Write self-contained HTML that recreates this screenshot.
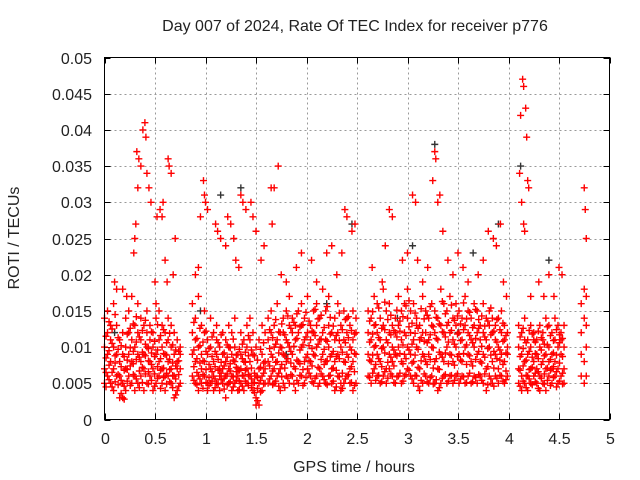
<!DOCTYPE html>
<html><head><meta charset="utf-8"><style>
html,body{margin:0;padding:0;background:#fff}
svg{display:block}
text{font-family:"Liberation Sans","DejaVu Sans",sans-serif;fill:#222}
</style></head><body>
<svg id="chart" width="640" height="480" viewBox="0 0 640 480" xmlns="http://www.w3.org/2000/svg">
<text x="355" y="31" font-size="16" text-anchor="middle">Day 007 of 2024, Rate Of TEC Index for receiver p776</text>
<text transform="translate(19,238) rotate(-90)" font-size="16" text-anchor="middle">ROTI / TECUs</text>
<text x="354" y="472" font-size="16" text-anchor="middle">GPS time / hours</text>
<g id="grid"></g>
<g id="ticks"></g>
<g id="marks"></g>
<rect x="104.5" y="57.5" width="505" height="362" fill="none" stroke="#000" stroke-width="1"/>
</svg>
<script>
// axis ticks
const xTicks = [0,0.5,1,1.5,2,2.5,3,3.5,4,4.5,5];
const xTickLabels = ["0","0.5","1","1.5","2","2.5","3","3.5","4","4.5","5"];
const yTicks = [0,0.005,0.01,0.015,0.02,0.025,0.03,0.035,0.04,0.045,0.05];
const yTickLabels = ["0","0.005","0.01","0.015","0.02","0.025","0.03","0.035","0.04","0.045","0.05"];
// sample epochs (hours) and ROTI samples at each epoch (x 0.001 TECU/min)
const epochs = [0,0.03,0.06,0.09,0.12,0.15,0.18,0.21,0.24,0.27,0.30,0.33,0.36,0.39,0.42,0.45,0.48,0.51,0.54,0.57,0.60,0.63,0.66,0.69,0.72,0.75,
0.87,0.90,0.93,0.96,0.99,1.02,1.05,1.08,1.11,1.14,1.17,1.20,1.23,1.26,1.29,1.32,1.35,1.38,1.41,1.44,1.47,1.50,1.53,1.56,1.59,
1.62,1.65,1.68,1.71,1.74,1.77,1.80,1.83,1.86,1.89,1.92,1.95,1.98,2.01,2.04,2.07,2.10,2.13,2.16,2.19,2.22,2.25,2.28,2.31,2.34,2.37,2.40,2.43,2.46,2.49,
2.61,2.64,2.67,2.70,2.73,2.76,2.79,2.82,2.85,2.88,2.91,2.94,2.97,3.00,3.03,3.06,3.09,3.12,3.15,3.18,3.21,3.24,3.27,3.30,3.33,3.36,3.39,3.42,3.45,3.48,3.51,3.54,3.57,3.60,3.63,3.66,3.69,3.72,3.75,3.78,3.81,3.84,3.87,3.90,3.93,3.96,3.99,
4.10,4.13,4.16,4.19,4.22,4.25,4.28,4.31,4.34,4.37,4.40,4.43,4.46,4.49,4.52,4.55,
4.72,4.75,4.77];
const rotiSamples = [[7,10,14,5],[6,12,9,15],[5,8,11,13],[4,7,10,16],[6,9,13,18],[3,8,11,6],[3,5,9,12],[4,7,10,14],[6,9,12,15],[5,8,11,17],[4,6,10,13],[5,9,12,16],[6,8,11,14],[4,7,9,13],[5,10,12,15],[6,8,13,11],[4,7,10,12],[5,9,14,16],[6,8,11,15],[5,7,10,13],[4,6,9,12],[6,8,11,14],[5,7,10,13],[3,6,9,12],[4,7,8,11],[5,9,7,10],
[6,9,12,16],[5,8,11,14],[4,6,10,17],[5,7,9,13],[6,8,12,15],[4,5,9,11],[5,7,10,14],[4,6,8,12],[5,9,11,13],[4,6,7,10],[5,7,9,12],[3,6,8,11],[5,7,10,13],[4,6,9,12],[5,8,10,14],[4,6,7,9],[5,7,9,12],[4,6,8,11],[5,7,10,13],[6,8,11,14],[4,5,9,12],[2,3,6,10],[2,5,7,11],[4,6,9,13],[5,7,8,12],
[5,8,11,14],[6,9,12,15],[5,7,10,13],[6,8,11,16],[4,7,10,12],[5,9,12,14],[6,8,11,15],[5,10,13,17],[6,9,12,14],[4,7,11,13],[5,8,12,15],[6,10,13,16],[5,8,11,14],[7,9,12,17],[6,8,11,13],[5,9,12,15],[6,10,13,16],[5,7,11,14],[6,9,12,18],[5,8,11,15],[6,10,13,17],[5,7,9,12],[4,8,11,14],[6,9,12,16],[4,5,10,13],[5,8,11,15],[6,9,12,14],[5,7,10,13],[4,8,11,15],[5,9,12,14],
[6,9,12,15],[5,8,11,14],[7,10,13,17],[6,9,12,16],[5,8,11,14],[6,10,13,18],[5,7,11,15],[7,9,12,16],[6,8,10,13],[5,9,12,14],[6,10,13,17],[5,8,11,15],[6,9,12,16],[7,10,14,18],[6,9,12,15],[5,8,11,16],[6,10,13,14],[4,7,11,13],[5,9,12,17],[6,8,12,15],[5,9,11,14],[6,10,13,16],[5,8,12,15],[4,7,11,14],[5,9,13,18],[6,8,12,16],[5,10,13,15],[6,9,12,17],[5,8,11,14],[6,10,13,16],[5,9,12,15],[6,8,11,14],[5,10,13,17],[6,9,12,15],[5,8,11,14],[6,10,13,16],[5,9,12,15],[6,8,11,13],[5,9,12,16],[4,7,11,14],[6,10,13,15],[5,8,12,14],[6,9,11,13],[5,7,10,14],[6,9,12,15],[5,8,11,13],[6,9,10,12],
[5,7,10,13],[4,6,9,12],[5,8,11,14],[4,6,9,11],[5,7,10,13],[6,8,11,12],[5,7,9,11],[4,6,10,13],[5,8,11,12],[4,7,9,14],[6,8,10,13],[5,7,9,12],[6,8,11,14],[5,7,10,13],[6,9,11,12],[5,7,10,13],
[6,9,12,16],[5,8,14,18],[6,10,13,17]];
// additional interleaved epochs and samples
const epochsB = [0.015,0.045,0.075,0.105,0.135,0.165,0.195,0.225,0.255,0.285,0.315,0.345,0.375,0.405,0.435,0.465,0.495,0.525,0.555,0.585,0.615,0.645,0.675,0.705,0.735,
0.885,0.915,0.945,0.975,1.005,1.035,1.065,1.095,1.125,1.155,1.185,1.215,1.245,1.275,1.305,1.335,1.365,1.395,1.425,1.455,1.485,1.515,1.545,1.575,
1.635,1.665,1.695,1.725,1.755,1.785,1.815,1.845,1.875,1.905,1.935,1.965,1.995,2.025,2.055,2.085,2.115,2.145,2.175,2.205,2.235,2.265,2.295,2.325,2.355,2.385,2.415,2.445,2.475,
2.625,2.655,2.685,2.715,2.745,2.775,2.805,2.835,2.865,2.895,2.925,2.955,2.985,3.015,3.045,3.075,3.105,3.135,3.165,3.195,3.225,3.255,3.285,3.315,3.345,3.375,3.405,3.435,3.465,3.495,3.525,3.555,3.585,3.615,3.645,3.675,3.705,3.735,3.765,3.795,3.825,3.855,3.885,3.915,3.945,3.975,
4.115,4.145,4.175,4.205,4.235,4.265,4.295,4.325,4.355,4.385,4.415,4.445,4.475,4.505,4.535];
const rotiSamplesB = [[6.5,8.5,11.5,4.5],[5.5,7.5,9.5,13.5],[4.5,6.5,10.5,12.5],[5.2,7.8,8.8,14.5],[4.8,6.2,9.7,11.3],[3.6,5.4,7.3,10.2],[2.8,4.6,6.8,8.7],[5.3,6.9,8.2,11.8],[4.7,7.4,9.9,12.6],[6.2,7.7,9.4,13.2],[5.6,8.3,10.7,14.2],[4.4,6.7,8.6,11.4],[5.1,7.2,9.3,12.3],[6.3,8.8,10.4,13.7],[4.9,6.6,8.1,9.8],[5.4,7.6,9.2,12.1],[4.6,6.3,8.7,10.8],[5.7,7.3,9.6,13.1],[4.3,6.8,8.4,11.6],[5.8,7.1,9.1,12.4],[4.9,6.4,8.9,10.6],[5.2,6.9,8.3,11.9],[4.4,6.1,7.8,10.3],[3.4,5.6,7.4,9.6],[4.6,6.2,8.1,9.4],
[5.4,7.3,9.6,13.4],[4.8,6.5,8.4,11.2],[5.6,7.8,10.2,12.6],[4.3,6.2,8.1,10.7],[5.1,6.9,9.4,12.2],[4.7,5.8,7.6,9.8],[5.3,6.6,8.7,11.4],[4.4,5.6,7.3,9.4],[4.9,6.8,8.3,10.6],[5.5,6.4,7.9,11.7],[4.2,5.7,7.4,9.2],[4.8,6.3,8.6,10.3],[5.2,6.7,7.7,9.9],[4.5,5.9,8.2,11.1],[5.4,6.6,7.2,8.9],[4.1,5.3,6.8,9.7],[4.6,6.1,8.4,10.4],[5.3,6.8,7.9,9.3],[4.7,6.2,8.8,11.6],[4.4,5.6,7.1,9.6],[3.7,5.1,6.4,8.8],[2.6,4.3,5.8,8.2],[3.8,5.4,7.2,9.7],[4.9,6.4,7.8,10.6],
[5.6,7.4,9.8,12.4],[4.8,6.7,8.6,11.3],[5.3,7.9,10.4,13.8],[4.6,6.4,9.2,12.1],[5.9,7.6,9.9,13.2],[4.4,7.1,8.8,11.7],[5.7,8.4,10.6,14.3],[6.2,7.8,9.4,12.6],[4.9,7.3,10.1,13.4],[5.4,8.2,11.2,14.6],[6.1,7.7,9.6,12.8],[4.7,6.9,10.3,13.1],[5.8,8.6,11.4,14.8],[6.4,8.1,10.2,13.6],[5.2,7.4,9.8,12.2],[5.7,8.8,11.6,15.2],[4.6,7.2,10.4,13.9],[6.3,8.3,11.1,14.4],[5.5,7.6,9.7,12.7],[4.8,8.1,10.8,15.6],[6.1,8.7,11.8,14.1],[5.3,7.1,9.4,12.9],[4.5,6.8,8.7,11.6],[5.9,8.4,10.9,14.7],[4.3,6.4,9.3,12.4],[5.6,7.9,10.6,13.8],[6.2,8.6,11.3,14.2],[5.1,7.3,9.6,12.3],[4.7,6.6,9.1,11.8],
[5.8,8.2,10.7,13.6],[6.4,8.9,11.8,14.9],[5.4,7.6,10.2,13.1],[6.1,8.4,11.3,15.4],[5.2,7.3,9.8,12.6],[6.6,9.2,12.4,16.2],[5.7,7.9,10.6,13.8],[6.3,8.6,11.7,14.4],[5.1,7.4,9.6,12.3],[5.9,8.8,11.4,15.1],[6.4,9.1,12.2,13.6],[5.3,7.7,10.3,14.2],[6.2,8.4,11.6,15.7],[6.8,9.6,12.8,16.4],[5.6,7.8,10.4,13.3],[6.1,8.9,11.9,14.7],[4.6,7.2,9.7,12.6],[5.4,8.1,11.3,15.3],[6.3,8.7,10.8,13.9],[5.2,7.6,10.6,14.4],[5.8,8.3,11.7,15.6],[4.9,7.1,9.9,12.8],[5.5,8.4,11.2,14.1],[4.4,6.9,9.3,13.2],[5.7,8.6,12.1,16.3],[6.2,9.2,11.4,14.6],[5.3,7.7,10.7,13.4],[6.1,8.9,12.3,15.8],[5.4,7.5,10.4,13.7],[6.3,8.7,11.8,14.3],[5.6,8.2,10.9,13.2],[5.9,9.1,12.4,16.1],[5.1,7.6,10.3,13.9],[6.4,8.8,11.6,14.8],[5.2,7.4,10.6,12.7],[5.8,8.3,11.2,15.2],[6.2,9.4,12.6,13.8],[5.4,7.8,10.1,14.3],[6.3,8.6,11.4,12.9],[4.8,7.3,9.8,13.6],[5.6,8.9,11.7,15.4],[4.6,7.1,9.4,12.2],[5.7,8.4,10.7,13.8],[6.1,8.2,9.6,12.4],[5.3,7.6,10.8,13.3],[5.5,6.7,9.2,11.6],
[4.6,6.8,8.7,11.4],[5.3,7.4,9.8,12.6],[4.4,6.1,8.2,10.6],[5.6,6.9,9.4,12.3],[4.8,7.2,8.6,11.8],[5.2,6.4,9.1,10.7],[4.3,6.6,8.4,12.2],[5.7,7.6,9.6,11.3],[4.9,6.3,8.8,10.4],[5.4,7.1,10.3,12.8],[4.7,6.8,8.3,11.6],[5.8,7.3,9.2,10.9],[4.5,6.6,8.9,12.4],[5.3,7.8,10.6,11.7],[4.9,6.4,8.7,11.2]];
// isolated high values
const outlierTimes = [0.32,0.34,0.36,0.38,0.40,0.41,0.33,0.30,0.31,0.29,0.42,0.44,0.46,0.52,0.55,0.57,0.58,0.63,0.64,0.66,0.60,0.50,0.62,0.70,0.68,0.18,0.10,0.22,
0.98,0.99,1.0,1.02,0.95,0.93,0.90,1.1,1.12,1.15,1.2,1.22,1.25,1.28,1.3,1.33,1.35,1.37,1.40,1.45,1.47,1.50,1.55,1.58,1.65,1.68,1.72,1.66,1.75,1.8,1.9,1.95,2.05,2.1,2.2,2.25,2.35,2.38,2.40,2.45,2.48,2.3,
2.65,2.75,2.82,2.85,2.78,2.95,3.0,3.05,3.08,3.1,3.15,3.2,3.25,3.27,3.28,3.30,3.32,3.35,3.40,3.45,3.5,3.55,3.6,3.7,3.75,3.8,3.85,3.88,3.92,3.95,3.98,
4.12,4.14,4.15,4.17,4.18,4.11,4.13,4.15,4.16,4.19,4.20,4.22,4.30,4.35,4.40,4.45,4.50,4.53,4.75,4.76,4.77];
const outlierRoti = [37,36,35,40,41,39,32,25,27,23,34,32,30,28,29,28,30,36,35,34,22,19,19,25,20,18,19,17,
33,31,30,29,28,21,20,27,26,25,24,28,27,25,22,21,31,30,29,30,28,26,22,24,32,32,35,27,20,19,21,23,22,19,23,24,23,29,28,26,27,20,
21,19,29,28,24,22,23,31,30,22,19,21,33,37,36,30,31,26,22,20,23,21,19,20,22,26,25,24,27,19,17,
42,47,46,43,39,34,30,27,26,33,32,17,19,17,20,17,21,20,32,29,25];
// second (dark) series
const darkTimes = [1.35,3.27,3.05,2.45,4.12,1.8,3.5,0.1,2.2,3.9,0.95,2.9,4.4,1.15,3.65];
const darkRoti = [32,38,24,27,35,9,12,12,16,27,15,14,22,31,23];

const NS="http://www.w3.org/2000/svg";
const X0=104.5,X1=609.5,Y0=419.5,Y1=57.5;
function xs(t){return X0+(t-0)/(5-0)*(X1-X0);}
function ys(v){return Y0-(v-0)/(0.05-0)*(Y0-Y1);}
const grid=document.getElementById('grid'),ticks=document.getElementById('ticks'),marks=document.getElementById('marks');
function line(p,x1,y1,x2,y2,st,dash){const l=document.createElementNS(NS,'line');l.setAttribute('x1',x1);l.setAttribute('y1',y1);l.setAttribute('x2',x2);l.setAttribute('y2',y2);l.setAttribute('stroke',st);if(dash)l.setAttribute('stroke-dasharray',dash);p.appendChild(l);return l;}
xTicks.forEach((t,i)=>{
  const x=Math.round(xs(t))+0.5;
  if(i>0&&i<xTicks.length-1){const g=line(grid,x,Y1,x,Y0,'#999','2,3');
    
    }
  line(ticks,x,Y0,x,Y0-6,'#000');line(ticks,x,Y1,x,Y1+6,'#000');
  const tx=document.createElementNS(NS,'text');
  
  
  tx.setAttribute('x',x);tx.setAttribute('y',444);tx.setAttribute('font-size','16');tx.setAttribute('text-anchor','middle');tx.textContent=xTickLabels[i];ticks.appendChild(tx);
});
yTicks.forEach((v,i)=>{
  const y=Math.round(ys(v))+0.5;
  if(i>0&&i<yTicks.length-1){const g=line(grid,X0,y,X1,y,'#999','2,3');
    
    }
  line(ticks,X0,y,X0+6,y,'#000');line(ticks,X1,y,X1-6,y,'#000');
  const tx=document.createElementNS(NS,'text');
  
  
  tx.setAttribute('x',92);tx.setAttribute('y',y+5.5);tx.setAttribute('font-size','16');tx.setAttribute('text-anchor','end');tx.textContent=yTickLabels[i];ticks.appendChild(tx);
});
function plus(t,v,color,name){
  const x=xs(t),y=ys(v);
  const p=document.createElementNS(NS,'path');
  
  
  p.setAttribute('d','M'+(x-3.5)+' '+y+'H'+(x+3.5)+'M'+x+' '+(y-3.5)+'V'+(y+3.5));
  p.setAttribute('stroke',color);p.setAttribute('stroke-width','1.4');
  marks.appendChild(p);
}
darkTimes.forEach((t,i)=>plus(t,darkRoti[i]*0.001,'#333','roti-point-dark'));
outlierTimes.forEach((t,i)=>plus(t,outlierRoti[i]*0.001,'#f00','roti-point'));
epochs.forEach((t,i)=>{(rotiSamples[i]||[]).forEach(v=>plus(t,v*0.001,'#f00','roti-point'));});
epochsB.forEach((t,i)=>{(rotiSamplesB[i]||[]).forEach(v=>plus(t,v*0.001,'#f00','roti-point'));});
</script>
</body></html>
